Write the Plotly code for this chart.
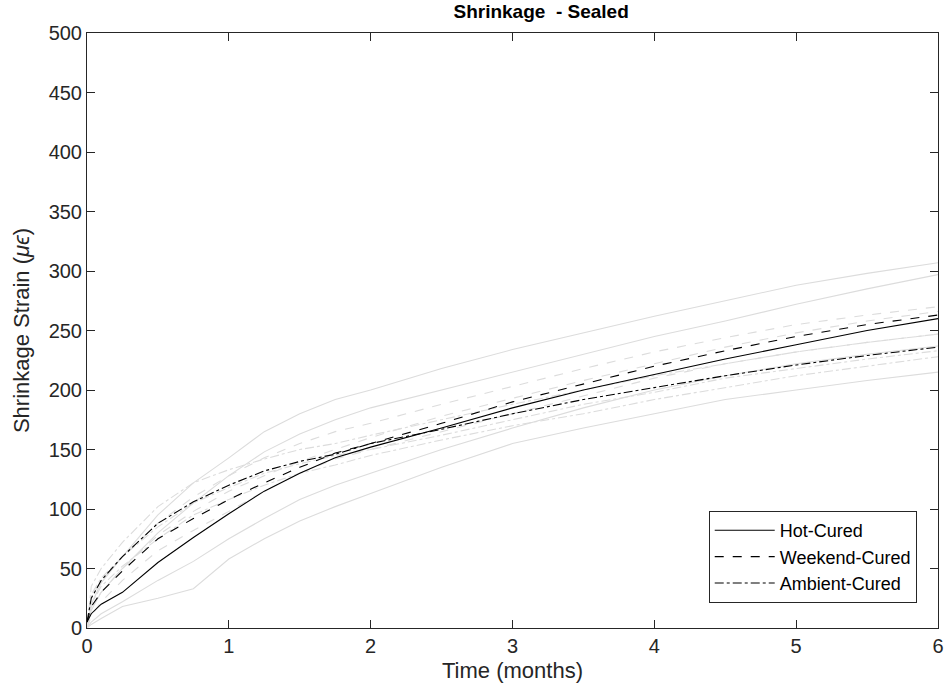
import plotly.graph_objects as go

# Time axis (months)
time_months = [0, 0.03, 0.1, 0.25, 0.5, 0.75, 1, 1.25, 1.5, 1.75, 2, 2.5, 3, 3.5, 4, 4.5, 5, 5.5, 6]

# Individual specimens (light grey)
hot_specimens = [
    [0, 20, 38, 60, 95, 122, 143, 165, 180, 192, 200, 218, 234, 248, 262, 275, 288, 298, 307],
    [0, 15, 30, 50, 80, 105, 128, 148, 163, 175, 185, 200, 215, 230, 245, 258, 272, 285, 297],
    [0, 5, 12, 22, 40, 56, 75, 92, 108, 120, 130, 150, 168, 185, 200, 212, 222, 230, 237],
    [0, 3, 8, 18, 25, 33, 58, 75, 90, 102, 113, 135, 155, 168, 180, 192, 200, 208, 215],
]
weekend_specimens = [
    [0, 25, 40, 60, 88, 110, 128, 143, 155, 165, 172, 188, 203, 218, 232, 244, 255, 263, 270],
    [0, 18, 30, 50, 78, 98, 115, 128, 140, 150, 160, 178, 193, 208, 222, 236, 248, 258, 266],
    [0, 10, 22, 40, 65, 82, 98, 115, 130, 142, 150, 165, 180, 195, 210, 222, 232, 240, 247],
]
ambient_specimens = [
    [0, 35, 50, 72, 102, 122, 133, 142, 150, 155, 162, 175, 188, 200, 212, 222, 232, 240, 247],
    [0, 28, 42, 60, 85, 105, 118, 130, 138, 145, 150, 162, 175, 188, 198, 210, 218, 226, 233],
    [0, 20, 35, 52, 75, 95, 108, 120, 130, 137, 145, 158, 170, 180, 192, 202, 212, 220, 228],
]

# Group averages
hot_cured = [5, 12, 20, 30, 55, 76, 96, 115, 130, 143, 152, 168, 185, 200, 213, 226, 238, 250, 260]
weekend_cured = [5, 18, 30, 48, 75, 92, 108, 122, 135, 147, 155, 172, 190, 205, 220, 233, 245, 255, 263]
ambient_cured = [5, 25, 40, 60, 88, 106, 120, 132, 140, 146, 155, 167, 180, 192, 202, 212, 221, 229, 236]

x_ticks = [0, 1, 2, 3, 4, 5, 6]
y_ticks = list(range(0, 501, 50))

GREY = "rgb(220,220,220)"
fig = go.Figure()

for group, dash in ((hot_specimens, "solid"), (weekend_specimens, "dash"), (ambient_specimens, "dashdot")):
    for ys in group:
        fig.add_trace(go.Scatter(x=time_months, y=ys, mode="lines", showlegend=False,
                                 hoverinfo="skip",
                                 line=dict(color=GREY, width=1.1, dash=dash)))

for name, ys, dash in (("Hot-Cured", hot_cured, "solid"),
                       ("Weekend-Cured", weekend_cured, "dash"),
                       ("Ambient-Cured", ambient_cured, "dashdot")):
    fig.add_trace(go.Scatter(x=time_months, y=ys, mode="lines", name=name,
                             line=dict(color="black", width=1.1, dash=dash)))

axis_common = dict(showgrid=False, zeroline=False, showline=True, linecolor="#262626",
                   linewidth=1, mirror="ticks", ticks="inside", ticklen=8,
                   tickcolor="#262626", tickfont=dict(size=20, color="#262626"),
                   automargin=False)

fig.update_layout(
    width=946, height=698,
    margin=dict(l=87, r=8, t=33, b=70),
    paper_bgcolor="white", plot_bgcolor="white",
    font=dict(family="Liberation Sans, Arial, sans-serif", color="#262626"),
    title=dict(text="<b>Shrinkage  - Sealed</b>", x=0.572, xanchor="center",
               y=0.993, yanchor="top", font=dict(size=19, color="black")),
    xaxis=dict(range=[0, 6], tickvals=x_ticks,
               title=dict(text="Time (months)", font=dict(size=22), standoff=6),
               **axis_common),
    yaxis=dict(range=[0, 500], tickvals=y_ticks,
               title=dict(text="Shrinkage Strain (<i>μϵ</i>)", font=dict(size=22), standoff=12),
               **axis_common),
    legend=dict(x=0.975, y=0.042, xanchor="right", yanchor="bottom",
                bgcolor="white", bordercolor="#262626", borderwidth=1,
                font=dict(size=18, color="black"), tracegroupgap=0, itemwidth=60),
)

fig.write_html("out.html")
